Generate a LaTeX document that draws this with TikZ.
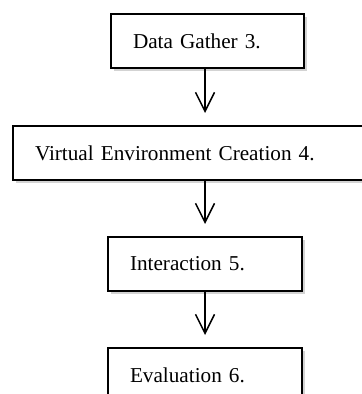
\documentclass[tikz,border=0pt]{standalone}
\usepackage{fontspec}
\setmainfont{Liberation Serif}
\usetikzlibrary{positioning,arrows.meta,shadows}

\begin{document}
\begin{tikzpicture}[
	stage/.style={draw,line width=1pt,fill=white,minimum height=27pt,inner xsep=11pt,
		align=left,font=\fontsize{10.6}{12}\selectfont,
		drop shadow={shadow xshift=1.3pt,shadow yshift=-1.3pt,opacity=0.35}},
	flow/.style={-{Straight Barb[length=9.5pt,width=9.5pt]},line width=0.75pt,shorten >=6pt}
]
\useasboundingbox (0,0) rectangle (180.5pt,-197pt);
\node[stage,text width=74.5pt] (gather) at (103.75pt,-20.5pt) {Data Gather 3.};
\node[stage,text width=161.5pt,below=28pt of gather,xshift=-5.5pt] (venv) {Virtual Environment Creation 4.};
\node[stage,text width=75pt,below=27.5pt of venv,xshift=4.25pt] (interact) {Interaction 5.};
\node[stage,text width=75pt,below=27.5pt of interact] (eval) {Evaluation 6.};
%arrows
\draw[flow] (gather.south -| interact) -- (venv.north -| interact);
\draw[flow] (venv.south -| interact) -- (interact.north);
\draw[flow] (interact.south) -- (eval.north);
\end{tikzpicture}
\end{document}
